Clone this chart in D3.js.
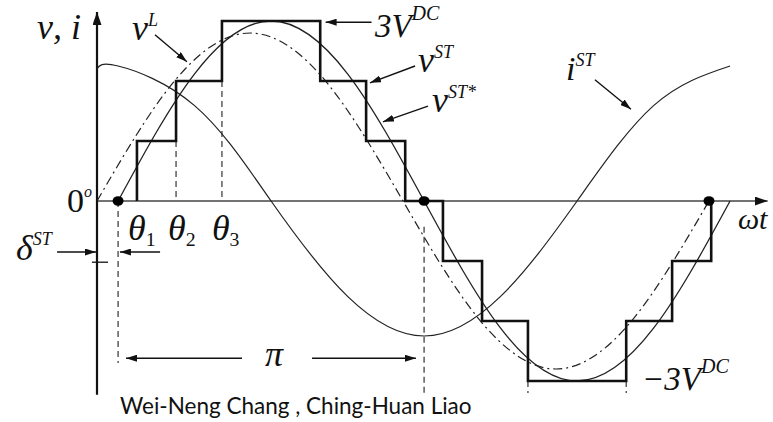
<!DOCTYPE html>
<html>
<head>
<meta charset="utf-8">
<script src="https://cdn.jsdelivr.net/npm/d3@7"></script>
<style>
  body { margin: 0; background: #fff; }
  svg { display: block; }
</style>
</head>
<body>
<svg id="chart" width="773" height="422"></svg>
<script>
// Angles are ωt in degrees; voltages and currents in units of V^DC.
const deltaST = 12.4;               // phase shift δ^ST of the staircase
const thetas = [11.1, 34.1, 61.1];  // switching angles θ1..θ3 from the fundamental zero crossing
const stairLevels = [1, 2, 3];      // voltage levels reached at θ1..θ3
const dotAngles = [12.4, 192.4, 360];

// Key points [ωt, value] of the smooth waveforms
const vStarPts = [[12.4, 0], [57.4, 2.12], [102.4, 3.0], [147.4, 2.12], [192.4, 0],
                  [237.4, -2.12], [282.4, -3.0], [327.4, -2.12], [372.4, 0]];
const vLPts = [[0, 0], [45, 1.98], [90, 2.8], [135, 1.98], [180, 0],
               [225, -1.98], [270, -2.8], [315, -1.98], [360, 0]];
const iSTPts = [[0, 2.2], [12.4, 2.25], [57.4, 1.59], [102.4, 0], [147.4, -1.59], [192.4, -2.25],
                [237.4, -1.59], [282.4, 0], [327.4, 1.59], [372.4, 2.25]];

const thetaNames = ["1", "2", "3"];
const caption = "Wei-Neng Chang , Ching-Huan Liao";

const svg = d3.select("#chart");
const x = d3.scaleLinear().domain([0, 360]).range([97, 709]);
const y = d3.scaleLinear().domain([-3, 3]).range([381, 21]);
const serif = "'Liberation Serif', 'Times New Roman', serif";

const defs = svg.append("defs");
function marker(id, w, h) {
  defs.append("marker").attr("id", id)
    .attr("viewBox", `0 0 ${w} ${h}`).attr("refX", w).attr("refY", h / 2)
    .attr("markerWidth", w).attr("markerHeight", h)
    .attr("markerUnits", "userSpaceOnUse").attr("orient", "auto")
    .append("path").attr("d", `M0,0L${w},${h / 2}L0,${h}Z`).attr("fill", "#111");
}
marker("head", 11, 7);
marker("axisHead", 13, 9);

// ---- staircase v^ST built from δ and θ ----
const edges = [];
thetas.forEach((t, k) => edges.push([deltaST + t, stairLevels[k]]));
thetas.slice().reverse().forEach((t, k) => edges.push([deltaST + 180 - t, stairLevels[thetas.length - 1 - k] - 1]));
thetas.forEach((t, k) => edges.push([deltaST + 180 + t, -stairLevels[k]]));
thetas.slice().reverse().forEach((t, k) => edges.push([deltaST + 360 - t, -(stairLevels[thetas.length - 1 - k] - 1)]));
const stairPts = [[edges[0][0], 0], ...edges];

// ---- dashed guides ----
const guides = [
  [deltaST + thetas[1], stairLevels[0], 0],
  [deltaST + thetas[2], stairLevels[1], 0],
  [deltaST, 0, -2.7],
  [192.4, -0.43, -3.2],
  [deltaST + 180 + thetas[2], -3, -3.2],
  [deltaST + 360 - thetas[2], -3, -3.2]
];
svg.append("g").selectAll("line").data(guides).join("line")
  .attr("x1", d => x(d[0])).attr("x2", d => x(d[0]))
  .attr("y1", d => y(d[1])).attr("y2", d => y(d[2]))
  .attr("stroke", "#333").attr("stroke-width", 1.2).attr("stroke-dasharray", "6,4");

// ---- axes ----
svg.append("line")
  .attr("x1", x(0)).attr("x2", x(394.5)).attr("y1", y(0)).attr("y2", y(0))
  .attr("stroke", "#444").attr("stroke-width", 1.6).attr("marker-end", "url(#axisHead)");
svg.append("line")
  .attr("x1", x(0)).attr("x2", x(0)).attr("y1", y(-3.23)).attr("y2", y(3.15))
  .attr("stroke", "#111").attr("stroke-width", 2.2).attr("marker-end", "url(#axisHead)");
svg.append("line")
  .attr("x1", x(-3)).attr("x2", x(6.5)).attr("y1", y(-1.02)).attr("y2", y(-1.02))
  .attr("stroke", "#111").attr("stroke-width", 1.3);

// ---- curves ----
const line = d3.line().x(d => x(d[0])).y(d => y(d[1]));
svg.append("path").attr("d", line.curve(d3.curveNatural)(iSTPts))
  .attr("fill", "none").attr("stroke", "#222").attr("stroke-width", 1.2);
svg.append("path").attr("d", line.curve(d3.curveNatural)(vLPts))
  .attr("fill", "none").attr("stroke", "#222").attr("stroke-width", 1.2)
  .attr("stroke-dasharray", "9,4,2,4");
svg.append("path").attr("d", line.curve(d3.curveNatural)(vStarPts))
  .attr("fill", "none").attr("stroke", "#222").attr("stroke-width", 1.3);
svg.append("path").attr("d", line.curve(d3.curveStepAfter)(stairPts))
  .attr("fill", "none").attr("stroke", "#111").attr("stroke-width", 2.6);

svg.append("g").selectAll("ellipse").data(dotAngles).join("ellipse")
  .attr("cx", d => x(d)).attr("cy", y(0)).attr("rx", 5.5).attr("ry", 4.8).attr("fill", "#000");

// ---- annotation arrows ----
const arrows = [
  [34.1, 2.77, 52.9, 2.32],
  [161.5, 2.98, 134.5, 2.98],
  [187.1, 2.25, 160.6, 1.97],
  [194.7, 1.58, 168.2, 1.32],
  [292.9, 2.02, 314.1, 1.53],
  [-23.5, -0.85, -0.6, -0.85],
  [37.1, -0.85, 13.5, -0.85],
  [85.3, -2.62, 17.1, -2.62],
  [126.5, -2.62, 187.6, -2.62]
];
svg.append("g").selectAll("line").data(arrows).join("line")
  .attr("x1", d => x(d[0])).attr("y1", d => y(d[1]))
  .attr("x2", d => x(d[2])).attr("y2", d => y(d[3]))
  .attr("stroke", "#111").attr("stroke-width", 1.4).attr("marker-end", "url(#head)");

// ---- math labels ----
function mathLabel(a, v, base, size, opt = {}) {
  const t = svg.append("text").attr("x", x(a)).attr("y", y(v))
    .attr("font-family", serif).attr("font-style", "italic")
    .attr("font-size", size).attr("fill", "#111");
  t.append("tspan").text(base);
  if (opt.sub) t.append("tspan").attr("font-size", size * 0.55).attr("font-style", "normal")
    .attr("dy", size * 0.18).text(opt.sub);
  if (opt.sup) t.append("tspan").attr("font-size", opt.supSize || 18)
    .attr("dy", opt.supDy || -size * 0.4).text(opt.sup);
  return t;
}
mathLabel(-35.3, 2.7, "ν,  i", 36);
mathLabel(20.6, 2.68, "ν", 36, { sup: "L" });
mathLabel(163.5, 2.73, "3V", 33, { sup: "DC", supSize: 20, supDy: -17 });
mathLabel(188.8, 2.15, "ν", 36, { sup: "ST" });
mathLabel(197.1, 1.48, "ν", 36, { sup: "ST*" });
mathLabel(275.9, 2.02, "i", 34, { sup: "ST" });
mathLabel(320.6, -3.15, "−3V", 33, { sup: "DC", supSize: 20, supDy: -17 });
mathLabel(-17.6, -0.18, "0", 34, { sup: "o", supSize: 16, supDy: -15 }).attr("font-style", null)
  .select("tspan:last-child").attr("font-style", "italic");
thetaNames.forEach((n, k) => mathLabel([18.2, 41.8, 67.6][k], -0.65, "θ", 36, { sub: n }));
mathLabel(-47.6, -0.98, "δ", 36, { sup: "ST" });
mathLabel(377, -0.47, "ωt", 30);
mathLabel(98.8, -2.75, "π", 36);

svg.append("text").attr("x", 120).attr("y", 414)
  .attr("font-family", "Lato, 'Open Sans', sans-serif").attr("font-size", 22.5)
  .attr("fill", "#111").text(caption);
</script>
</body>
</html>
